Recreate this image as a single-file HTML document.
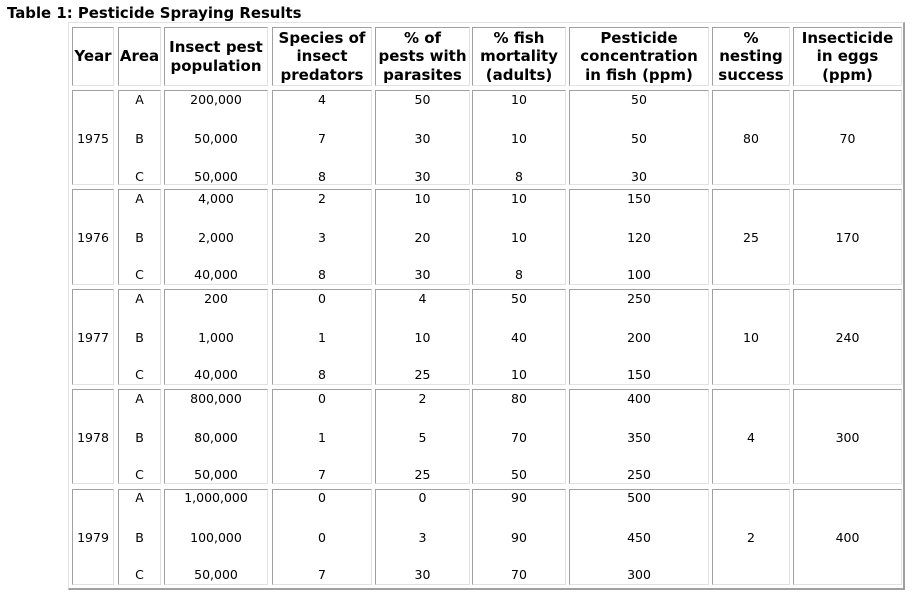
<!DOCTYPE html>
<html>
<head>
<meta charset="utf-8">
<style>
  html, body { margin:0; padding:0; background:#fff; }
  body { width:913px; height:596px; position:relative; overflow:hidden;
         font-family:"DejaVu Sans", Verdana, "Liberation Sans", sans-serif; color:#000; }
  .title { position:absolute; left:7px; top:4px; font-weight:bold; font-size:14.9px; line-height:18px; white-space:nowrap; }
  .outer { position:absolute; left:68px; top:22px; width:837px; height:568px; box-sizing:border-box;
           border-left:1px solid #e2e2e2; border-top:1px solid #e2e2e2;
           border-right:2px solid #a0a0a0; border-bottom:2px solid #a0a0a0; }
  .c { position:absolute; box-sizing:border-box;
       border-left:1px solid #a0a0a0; border-top:1px solid #a0a0a0;
       border-right:1px solid #e2e2e2; border-bottom:1px solid #e2e2e2; }
  .h { display:flex; align-items:center; justify-content:center; text-align:center;
       font-weight:bold; font-size:15px; line-height:18.5px; white-space:nowrap; }
  .t { position:absolute; text-align:center; font-size:12.5px; line-height:14px; white-space:nowrap; }
</style>
</head>
<body>
<div class="title">Table 1: Pesticide Spraying Results</div>
<div class="outer"></div>

<!-- header -->
<div class="c h" style="left:72px;top:27px;width:42px;height:59px;">Year</div>
<div class="c h" style="left:118px;top:27px;width:43px;height:59px;">Area</div>
<div class="c h" style="left:164px;top:27px;width:104px;height:59px;">Insect pest<br>population</div>
<div class="c h" style="left:272px;top:27px;width:100px;height:59px;">Species of<br>insect<br>predators</div>
<div class="c h" style="left:375px;top:27px;width:95px;height:59px;">% of<br>pests with<br>parasites</div>
<div class="c h" style="left:472px;top:27px;width:94px;height:59px;">% fish<br>mortality<br>(adults)</div>
<div class="c h" style="left:569px;top:27px;width:140px;height:59px;">Pesticide<br>concentration<br>in fish (ppm)</div>
<div class="c h" style="left:712px;top:27px;width:78px;height:59px;">%<br>nesting<br>success</div>
<div class="c h" style="left:793px;top:27px;width:109px;height:59px;">Insecticide<br>in eggs<br>(ppm)</div>

<!-- 1975 group -->
<div class="c" style="left:72px;top:90px;width:42px;height:95px;"></div>
<div class="c" style="left:118px;top:90px;width:43px;height:95px;"></div>
<div class="c" style="left:164px;top:90px;width:104px;height:95px;"></div>
<div class="c" style="left:272px;top:90px;width:100px;height:95px;"></div>
<div class="c" style="left:375px;top:90px;width:95px;height:95px;"></div>
<div class="c" style="left:472px;top:90px;width:94px;height:95px;"></div>
<div class="c" style="left:569px;top:90px;width:140px;height:95px;"></div>
<div class="c" style="left:712px;top:90px;width:78px;height:95px;"></div>
<div class="c" style="left:793px;top:90px;width:109px;height:95px;"></div>

<!-- 1976 group -->
<div class="c" style="left:72px;top:189px;width:42px;height:96px;"></div>
<div class="c" style="left:118px;top:189px;width:43px;height:96px;"></div>
<div class="c" style="left:164px;top:189px;width:104px;height:96px;"></div>
<div class="c" style="left:272px;top:189px;width:100px;height:96px;"></div>
<div class="c" style="left:375px;top:189px;width:95px;height:96px;"></div>
<div class="c" style="left:472px;top:189px;width:94px;height:96px;"></div>
<div class="c" style="left:569px;top:189px;width:140px;height:96px;"></div>
<div class="c" style="left:712px;top:189px;width:78px;height:96px;"></div>
<div class="c" style="left:793px;top:189px;width:109px;height:96px;"></div>

<!-- 1977 group -->
<div class="c" style="left:72px;top:289px;width:42px;height:96px;"></div>
<div class="c" style="left:118px;top:289px;width:43px;height:96px;"></div>
<div class="c" style="left:164px;top:289px;width:104px;height:96px;"></div>
<div class="c" style="left:272px;top:289px;width:100px;height:96px;"></div>
<div class="c" style="left:375px;top:289px;width:95px;height:96px;"></div>
<div class="c" style="left:472px;top:289px;width:94px;height:96px;"></div>
<div class="c" style="left:569px;top:289px;width:140px;height:96px;"></div>
<div class="c" style="left:712px;top:289px;width:78px;height:96px;"></div>
<div class="c" style="left:793px;top:289px;width:109px;height:96px;"></div>

<!-- 1978 group -->
<div class="c" style="left:72px;top:389px;width:42px;height:95px;"></div>
<div class="c" style="left:118px;top:389px;width:43px;height:95px;"></div>
<div class="c" style="left:164px;top:389px;width:104px;height:95px;"></div>
<div class="c" style="left:272px;top:389px;width:100px;height:95px;"></div>
<div class="c" style="left:375px;top:389px;width:95px;height:95px;"></div>
<div class="c" style="left:472px;top:389px;width:94px;height:95px;"></div>
<div class="c" style="left:569px;top:389px;width:140px;height:95px;"></div>
<div class="c" style="left:712px;top:389px;width:78px;height:95px;"></div>
<div class="c" style="left:793px;top:389px;width:109px;height:95px;"></div>

<!-- 1979 group -->
<div class="c" style="left:72px;top:489px;width:42px;height:96px;"></div>
<div class="c" style="left:118px;top:489px;width:43px;height:96px;"></div>
<div class="c" style="left:164px;top:489px;width:104px;height:96px;"></div>
<div class="c" style="left:272px;top:489px;width:100px;height:96px;"></div>
<div class="c" style="left:375px;top:489px;width:95px;height:96px;"></div>
<div class="c" style="left:472px;top:489px;width:94px;height:96px;"></div>
<div class="c" style="left:569px;top:489px;width:140px;height:96px;"></div>
<div class="c" style="left:712px;top:489px;width:78px;height:96px;"></div>
<div class="c" style="left:793px;top:489px;width:109px;height:96px;"></div>

<!-- ===== 1975 ===== -->
<div class="t" style="left:72px;width:42px;top:132px;">1975</div>
<div class="t" style="left:712px;width:78px;top:132px;">80</div>
<div class="t" style="left:793px;width:109px;top:132px;">70</div>

<div class="t" style="left:118px;width:43px;top:93px;">A</div>
<div class="t" style="left:164px;width:104px;top:93px;">200,000</div>
<div class="t" style="left:272px;width:100px;top:93px;">4</div>
<div class="t" style="left:375px;width:95px;top:93px;">50</div>
<div class="t" style="left:472px;width:94px;top:93px;">10</div>
<div class="t" style="left:569px;width:140px;top:93px;">50</div>

<div class="t" style="left:118px;width:43px;top:132px;">B</div>
<div class="t" style="left:164px;width:104px;top:132px;">50,000</div>
<div class="t" style="left:272px;width:100px;top:132px;">7</div>
<div class="t" style="left:375px;width:95px;top:132px;">30</div>
<div class="t" style="left:472px;width:94px;top:132px;">10</div>
<div class="t" style="left:569px;width:140px;top:132px;">50</div>

<div class="t" style="left:118px;width:43px;top:170px;">C</div>
<div class="t" style="left:164px;width:104px;top:170px;">50,000</div>
<div class="t" style="left:272px;width:100px;top:170px;">8</div>
<div class="t" style="left:375px;width:95px;top:170px;">30</div>
<div class="t" style="left:472px;width:94px;top:170px;">8</div>
<div class="t" style="left:569px;width:140px;top:170px;">30</div>

<!-- ===== 1976 ===== -->
<div class="t" style="left:72px;width:42px;top:231px;">1976</div>
<div class="t" style="left:712px;width:78px;top:231px;">25</div>
<div class="t" style="left:793px;width:109px;top:231px;">170</div>

<div class="t" style="left:118px;width:43px;top:192px;">A</div>
<div class="t" style="left:164px;width:104px;top:192px;">4,000</div>
<div class="t" style="left:272px;width:100px;top:192px;">2</div>
<div class="t" style="left:375px;width:95px;top:192px;">10</div>
<div class="t" style="left:472px;width:94px;top:192px;">10</div>
<div class="t" style="left:569px;width:140px;top:192px;">150</div>

<div class="t" style="left:118px;width:43px;top:231px;">B</div>
<div class="t" style="left:164px;width:104px;top:231px;">2,000</div>
<div class="t" style="left:272px;width:100px;top:231px;">3</div>
<div class="t" style="left:375px;width:95px;top:231px;">20</div>
<div class="t" style="left:472px;width:94px;top:231px;">10</div>
<div class="t" style="left:569px;width:140px;top:231px;">120</div>

<div class="t" style="left:118px;width:43px;top:268px;">C</div>
<div class="t" style="left:164px;width:104px;top:268px;">40,000</div>
<div class="t" style="left:272px;width:100px;top:268px;">8</div>
<div class="t" style="left:375px;width:95px;top:268px;">30</div>
<div class="t" style="left:472px;width:94px;top:268px;">8</div>
<div class="t" style="left:569px;width:140px;top:268px;">100</div>

<!-- ===== 1977 ===== -->
<div class="t" style="left:72px;width:42px;top:331px;">1977</div>
<div class="t" style="left:712px;width:78px;top:331px;">10</div>
<div class="t" style="left:793px;width:109px;top:331px;">240</div>

<div class="t" style="left:118px;width:43px;top:292px;">A</div>
<div class="t" style="left:164px;width:104px;top:292px;">200</div>
<div class="t" style="left:272px;width:100px;top:292px;">0</div>
<div class="t" style="left:375px;width:95px;top:292px;">4</div>
<div class="t" style="left:472px;width:94px;top:292px;">50</div>
<div class="t" style="left:569px;width:140px;top:292px;">250</div>

<div class="t" style="left:118px;width:43px;top:331px;">B</div>
<div class="t" style="left:164px;width:104px;top:331px;">1,000</div>
<div class="t" style="left:272px;width:100px;top:331px;">1</div>
<div class="t" style="left:375px;width:95px;top:331px;">10</div>
<div class="t" style="left:472px;width:94px;top:331px;">40</div>
<div class="t" style="left:569px;width:140px;top:331px;">200</div>

<div class="t" style="left:118px;width:43px;top:368px;">C</div>
<div class="t" style="left:164px;width:104px;top:368px;">40,000</div>
<div class="t" style="left:272px;width:100px;top:368px;">8</div>
<div class="t" style="left:375px;width:95px;top:368px;">25</div>
<div class="t" style="left:472px;width:94px;top:368px;">10</div>
<div class="t" style="left:569px;width:140px;top:368px;">150</div>

<!-- ===== 1978 ===== -->
<div class="t" style="left:72px;width:42px;top:431px;">1978</div>
<div class="t" style="left:712px;width:78px;top:431px;">4</div>
<div class="t" style="left:793px;width:109px;top:431px;">300</div>

<div class="t" style="left:118px;width:43px;top:392px;">A</div>
<div class="t" style="left:164px;width:104px;top:392px;">800,000</div>
<div class="t" style="left:272px;width:100px;top:392px;">0</div>
<div class="t" style="left:375px;width:95px;top:392px;">2</div>
<div class="t" style="left:472px;width:94px;top:392px;">80</div>
<div class="t" style="left:569px;width:140px;top:392px;">400</div>

<div class="t" style="left:118px;width:43px;top:431px;">B</div>
<div class="t" style="left:164px;width:104px;top:431px;">80,000</div>
<div class="t" style="left:272px;width:100px;top:431px;">1</div>
<div class="t" style="left:375px;width:95px;top:431px;">5</div>
<div class="t" style="left:472px;width:94px;top:431px;">70</div>
<div class="t" style="left:569px;width:140px;top:431px;">350</div>

<div class="t" style="left:118px;width:43px;top:468px;">C</div>
<div class="t" style="left:164px;width:104px;top:468px;">50,000</div>
<div class="t" style="left:272px;width:100px;top:468px;">7</div>
<div class="t" style="left:375px;width:95px;top:468px;">25</div>
<div class="t" style="left:472px;width:94px;top:468px;">50</div>
<div class="t" style="left:569px;width:140px;top:468px;">250</div>

<!-- ===== 1979 ===== -->
<div class="t" style="left:72px;width:42px;top:531px;">1979</div>
<div class="t" style="left:712px;width:78px;top:531px;">2</div>
<div class="t" style="left:793px;width:109px;top:531px;">400</div>

<div class="t" style="left:118px;width:43px;top:491px;">A</div>
<div class="t" style="left:164px;width:104px;top:491px;">1,000,000</div>
<div class="t" style="left:272px;width:100px;top:491px;">0</div>
<div class="t" style="left:375px;width:95px;top:491px;">0</div>
<div class="t" style="left:472px;width:94px;top:491px;">90</div>
<div class="t" style="left:569px;width:140px;top:491px;">500</div>

<div class="t" style="left:118px;width:43px;top:531px;">B</div>
<div class="t" style="left:164px;width:104px;top:531px;">100,000</div>
<div class="t" style="left:272px;width:100px;top:531px;">0</div>
<div class="t" style="left:375px;width:95px;top:531px;">3</div>
<div class="t" style="left:472px;width:94px;top:531px;">90</div>
<div class="t" style="left:569px;width:140px;top:531px;">450</div>

<div class="t" style="left:118px;width:43px;top:568px;">C</div>
<div class="t" style="left:164px;width:104px;top:568px;">50,000</div>
<div class="t" style="left:272px;width:100px;top:568px;">7</div>
<div class="t" style="left:375px;width:95px;top:568px;">30</div>
<div class="t" style="left:472px;width:94px;top:568px;">70</div>
<div class="t" style="left:569px;width:140px;top:568px;">300</div>

</body>
</html>
